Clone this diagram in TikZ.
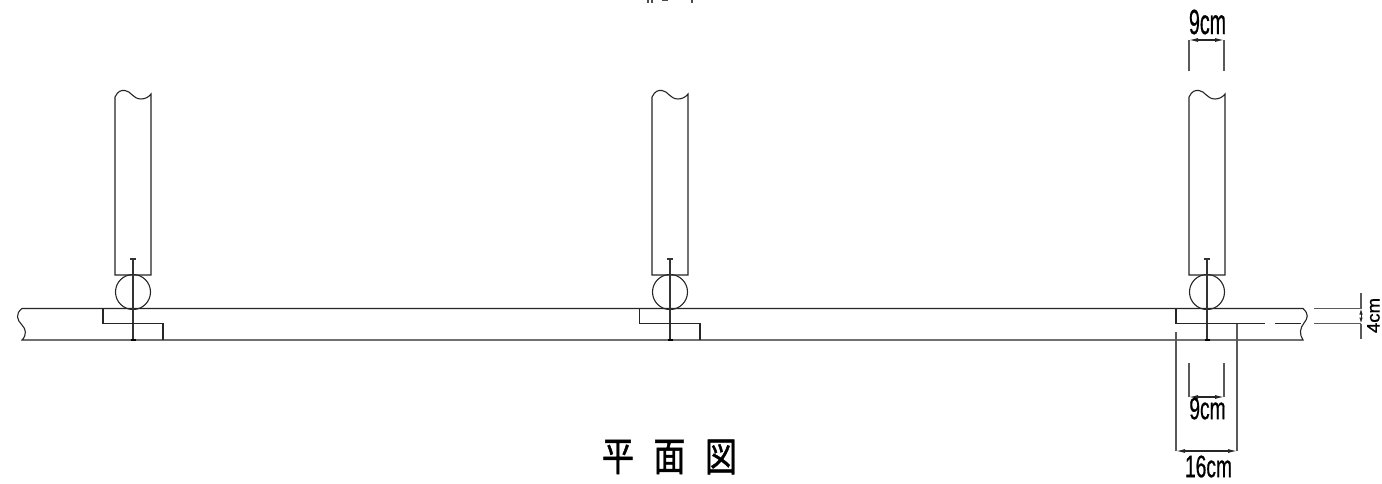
\documentclass[tikz,border=0pt]{standalone}
\usepackage{fontspec}
\setmainfont[FakeBold=.8]{Liberation Sans}
\newfontfamily\cjk[FakeBold=1.2]{Noto Sans CJK JP}
\usetikzlibrary{arrows.meta}
\tikzset{
  ln/.style={line width=1.1pt,draw=black!85},
  ext/.style={line width=1.4pt,draw=black!65},
  dimln/.style={line width=1.1pt,draw=black!85,{Latex[length=9pt,width=4pt]}-{Latex[length=9pt,width=4pt]}},
  dimtxt/.style={inner sep=0pt,font=\fontsize{31}{31}\selectfont,xscale=.62,transform shape},
  titlech/.style={inner sep=0pt,font=\cjk\fontsize{40}{40}\selectfont,xscale=.8,transform shape},
}
\newcommand{\postunit}[2]{% centre x, name
  \coordinate (#2pt) at (#1,259);
  \coordinate (#2pb) at (#1,340);
  \node[circle,draw=black!85,line width=1.1pt,minimum size=35pt,inner sep=0pt] (#2c) at (#1,292) {};
  \draw[ln] (#1-18,275) -- (#1-18,97) .. controls (#1-15,91) and (#1-12,90) .. (#1-8,90.5) .. controls (#1-2,91) and (#1,99) .. (#1+8,99) .. controls (#1+12,99) and (#1+16,97) .. (#1+18,94) -- (#1+18,275) -- cycle;
  \draw[line width=1.3pt,draw=black!80] (#2pt) -- (#2pb);
  \draw[line width=1.3pt,draw=black!80] (#1-3,259) -- (#1+3,259);
  \draw[line width=1.8pt] (#1-2.5,340) -- (#1+2.5,340);
}
\begin{document}
\begin{tikzpicture}[x=1pt,y=-1pt]
\useasboundingbox (0,0) rectangle (1382,483);
\fill[white] (0,0) rectangle (1382,483);
% cropped remains of a text at the top edge
\draw[line width=1.6pt,black!70] (648,0) -- (648,2.5) (652,0) -- (652,2.5) (662,0) -- (668,0) (692,0) -- (692,3);
% wall
\coordinate (wtl) at (22,308.5);
\coordinate (wtr) at (1303,308.5);
\coordinate (wbl) at (22,340);
\coordinate (wbr) at (1303,340);
\draw[ln] (wtl) -- (wtr) .. controls (1309,314) and (1308,318) .. (1304,323) .. controls (1300,328) and (1299,334) .. (wbr) -- (wbl) .. controls (27,335) and (26,329) .. (22,325) .. controls (17,320) and (15,314) .. (wtl);
% posts
\postunit{133}{a}
\postunit{670}{b}
\postunit{1207}{c}
% notches
\draw[ln] (103,308.5) -- (103,323.5) -- (163,323.5) -- (163,340);
\draw[ln] (639.5,308.5) -- (639.5,323.5) -- (700,323.5) -- (700,340);
\draw[ln] (1176,308.5) -- (1176,323.5) -- (1265,323.5);
\draw[ln] (1275,323.5) -- (1301,323.5);
% top 9cm
\coordinate (t1) at (1189,40);
\coordinate (t2) at (1224,40);
\draw[ext] (t1) -- (1189,71);
\draw[ext] (t2) -- (1224,71);
\draw[dimln] (t1) -- (t2);
\node[inner sep=0pt,font=\fontsize{35}{35}\selectfont,xscale=.56,transform shape] (t9) at (1207.5,22) {9cm};
% lower 9cm
\coordinate (m1) at (1189,397);
\coordinate (m2) at (1224,397);
\draw[ext] (m1) -- (1189,363);
\draw[ext] (m2) -- (1224,363);
\draw[dimln] (m1) -- (m2);
\node[dimtxt] (m9) at (1207.5,408.5) {9cm};
% 16cm
\coordinate (s1) at (1176,451);
\coordinate (s2) at (1237,451);
\draw[ext] (s1) -- (1176,332);
\draw[ext] (s2) -- (1237,324);
\draw[dimln] (s1) -- (s2);
\node[dimtxt] (s16) at (1208.5,466.5) {16cm};
% 4cm
\coordinate (f1) at (1361,308.5);
\coordinate (f2) at (1361,323.5);
\draw[ext] (1314,308.5) -- (f1);
\draw[ext] (1314,323.5) -- (f2);
\draw[ext] (1361,293) -- (f1);
\draw[ext] (f2) -- (1361,339);
\draw[line width=1pt,draw=black!85,{Latex[length=6pt,width=3.5pt]}-{Latex[length=6pt,width=3.5pt]}] (f1) -- (f2);
\node[inner sep=0pt,font=\fontsize{18}{18}\selectfont,rotate=90,xscale=1.03,transform shape] (f4) at (1373.5,315.5) {4cm};
% title
\node[titlech] (ttl1) at (618,457) {平};
\node[titlech] (ttl2) at (669.5,457) {面};
\node[titlech] (ttl3) at (721,457) {図};
\end{tikzpicture}
\end{document}
